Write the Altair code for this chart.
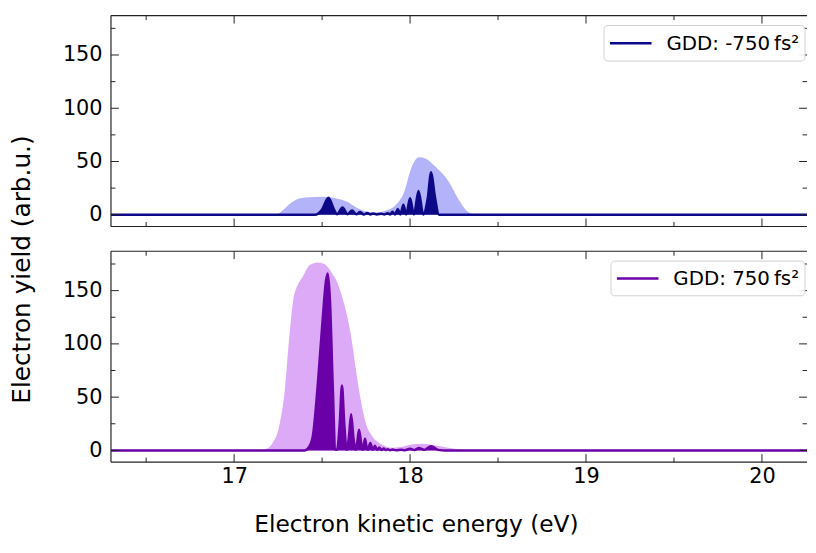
import altair as alt
import pandas as pd

# ---------------- data ----------------
# GDD -750 fs^2 : broad envelope (light) and fringe spectrum (dark)
E_top_env = [16.30, 17.20, 17.245, 17.28, 17.32, 17.34, 17.376, 17.43, 17.489, 17.564,
             17.60, 17.64, 17.695, 17.75, 17.81, 17.86, 17.92, 17.967, 18.005, 18.05,
             18.09, 18.145, 18.22, 18.277, 18.33, 18.37, 18.42, 20.30]
Y_top_env = [0, 0, 0.5, 4.6, 10.8, 13, 15.5, 16.5, 17, 16,
             14.5, 12.4, 6.8, 3.1, 2.2, 3.7, 9.3, 21.7, 43, 54,
             52.6, 45, 31, 14, 2.5, 0.3, 0, 0]

E_top_dark = [16.30, 17.46, 17.50, 17.536, 17.57, 17.585, 17.616, 17.645, 17.67, 17.695,
              17.716, 17.737, 17.757, 17.775, 17.79, 17.81, 17.836, 17.855, 17.873, 17.887,
              17.90, 17.915, 17.93, 17.945, 17.962, 17.978, 18.0, 18.022, 18.048, 18.075,
              18.10, 18.12, 18.14, 18.165, 20.30]
Y_top_dark = [0, 0, 5, 16, 4, 0.5, 6.8, 0.5, 4, 0.4,
              2.5, 0.3, 1.6, 0.3, 1.2, 0.3, 1.0, 0.3, 1.5, 0.3,
              2.8, 0.3, 5.5, 0.3, 9.5, 0.3, 15.5, 0.3, 22.3, 0.3,
              15, 40, 18, 0, 0]

# GDD +750 fs^2
E_bot_env = [16.30, 17.13, 17.175, 17.213, 17.26, 17.288, 17.307, 17.335, 17.363, 17.39,
             17.43, 17.476, 17.513, 17.55, 17.588, 17.626, 17.663, 17.69, 17.72, 17.748,
             17.785, 17.84, 17.898, 17.954, 18.01, 18.067, 18.142, 18.217, 18.29, 18.35, 20.30]
Y_bot_env = [0, 0, 1, 5.6, 25.7, 56.7, 93.8, 140, 155.7, 163,
             174, 176.5, 175, 168, 157, 137, 109, 78, 47, 25.7,
             13.3, 5.6, 2.5, 3.4, 5.6, 6.2, 4.6, 2.5, 0.9, 0, 0]

E_bot_dark = [16.30, 17.40, 17.425, 17.447, 17.476, 17.504, 17.522, 17.532, 17.545, 17.56,
              17.575, 17.585, 17.60, 17.613, 17.626, 17.64, 17.652, 17.665, 17.678, 17.69,
              17.70, 17.71, 17.722, 17.73, 17.737, 17.744, 17.752, 17.76, 17.774, 17.788,
              17.80, 17.813, 17.825, 17.838, 17.85, 17.862, 17.874, 17.887, 17.90, 17.92,
              17.95, 17.97, 18.0, 18.025, 18.05, 18.08, 18.12, 18.16, 18.20, 20.30]
Y_bot_dark = [0, 0, 3, 13, 63, 125, 159, 166, 140, 63,
              1, 0.5, 25, 61, 25, 0.5, 12, 34, 12, 0.5,
              8, 19.5, 7, 0.5, 5, 11, 4, 0.5, 7, 0.5,
              4.3, 0.3, 2.8, 0.3, 1.8, 0.3, 1.2, 0.2, 0.8, 0.2,
              0.6, 0.2, 1.5, 0.3, 2.2, 0.5, 4, 0.5, 0, 0]

labels = ["GDD: -750\u2009fs\u00b2", "GDD: 750\u2009fs\u00b2"]
dark_colors = ["#0d0887", "#6a00a8"]
light_colors = ["#b3b3fa", "#dcaaf6"]

major_x = [17, 18, 19, 20]
minor_x = [16.5, 17.5, 18.5, 19.5]
major_y = [0, 50, 100, 150]
minor_y = [25, 75, 125, 175]

W = 703
H = 213
X_DOMAIN = [16.3, 16.3 + W / 177.7]
Y_DOMAIN = [-11, 187]
MAJ = 8
MIN = 4.5
FONT = "DejaVu Sans"
TICK_COLOR = "#222222"
SPINE = "#222222"

# legend box geometry per panel (pixels inside the plot area)
LEGEND_BOX = [dict(x=498, x2=701, y=10, y2=46),
              dict(x=505, x2=701, y=10, y2=45)]


def frame_layers(xs, ys):
    layers = []
    for vals, L in ((major_x, MAJ), (minor_x, MIN)):
        d = pd.DataFrame({"v": vals})
        layers.append(alt.Chart(d).mark_rule(color=TICK_COLOR, strokeWidth=1).encode(
            x=alt.X("v:Q", scale=xs), y=alt.value(H), y2=alt.value(H - L)))
        layers.append(alt.Chart(d).mark_rule(color=TICK_COLOR, strokeWidth=1).encode(
            x=alt.X("v:Q", scale=xs), y=alt.value(0), y2=alt.value(L)))
    for vals, L in ((major_y, MAJ), (minor_y, MIN)):
        d = pd.DataFrame({"v": vals})
        layers.append(alt.Chart(d).mark_rule(color=TICK_COLOR, strokeWidth=1).encode(
            y=alt.Y("v:Q", scale=ys), x=alt.value(0), x2=alt.value(L)))
        layers.append(alt.Chart(d).mark_rule(color=TICK_COLOR, strokeWidth=1).encode(
            y=alt.Y("v:Q", scale=ys), x=alt.value(W), x2=alt.value(W - L)))
    # spines: left, top, bottom (the right spine lies outside the cropped picture)
    layers.append(alt.Chart().mark_rule(color=SPINE, strokeWidth=1.2).encode(
        x=alt.value(0), y=alt.value(0), y2=alt.value(H)))
    layers.append(alt.Chart().mark_rule(color=SPINE, strokeWidth=1.2).encode(
        x=alt.value(0), x2=alt.value(W), y=alt.value(0)))
    layers.append(alt.Chart().mark_rule(color=SPINE, strokeWidth=1.2).encode(
        x=alt.value(0), x2=alt.value(W), y=alt.value(H)))
    return layers


def legend_layers(i):
    b = LEGEND_BOX[i]
    cy = (b["y"] + b["y2"]) / 2
    box = alt.Chart().mark_rect(fill="white", stroke="#cccccc", strokeWidth=1,
                                cornerRadius=4, opacity=0.9).encode(
        x=alt.value(b["x"]), x2=alt.value(b["x2"]), y=alt.value(b["y"]), y2=alt.value(b["y2"]))
    sym = alt.Chart().mark_rule(color=dark_colors[i], strokeWidth=2.5).encode(
        x=alt.value(b["x"] + 6), x2=alt.value(b["x"] + 48), y=alt.value(cy))
    txt = alt.Chart().mark_text(align="left", baseline="middle", font=FONT, fontSize=20,
                                color="#000").encode(
        x=alt.value(b["x"] + 63), y=alt.value(cy + 1), text=alt.value(labels[i]))
    return [box, sym, txt]


def panel(i, E_env, Y_env, E_dk, Y_dk, bottom):
    xs = alt.Scale(domain=X_DOMAIN, nice=False, zero=False)
    ys = alt.Scale(domain=Y_DOMAIN, nice=False, zero=False)
    if bottom:
        xaxis = alt.Axis(values=major_x, format="d", ticks=False, domain=False, grid=False,
                         labelPadding=4, title="Electron kinetic energy (eV)", titleFontSize=23.5,
                         titleX=308, titleY=70, titleAlign="center", titleBaseline="alphabetic")
        yaxis = alt.Axis(values=major_y, ticks=False, domain=False, grid=False,
                         labelPadding=9, title="")
    else:
        xaxis = alt.Axis(values=major_x, labels=False, ticks=False, domain=False, grid=False, title="")
        yaxis = alt.Axis(values=major_y, ticks=False, domain=False, grid=False,
                         labelPadding=9, title="Electron yield (arb.u.)", titleFontSize=25,
                         titleX=-90, titleY=256, titleAngle=270, titleAlign="center",
                         titleBaseline="middle")

    env = pd.DataFrame({"E": E_env, "Y": Y_env})
    dk = pd.DataFrame({"E": E_dk, "Y": Y_dk})

    light = alt.Chart(env).mark_area(color=light_colors[i], interpolate="monotone", clip=True).encode(
        x=alt.X("E:Q", scale=xs, axis=xaxis),
        y=alt.Y("Y:Q", scale=ys, axis=yaxis),
        y2=alt.datum(0))
    dark = alt.Chart(dk).mark_area(color=dark_colors[i], interpolate="monotone", clip=True).encode(
        x=alt.X("E:Q", scale=xs), y=alt.Y("Y:Q", scale=ys), y2=alt.datum(0))
    line = alt.Chart(dk).mark_line(color=dark_colors[i], interpolate="monotone",
                                   strokeWidth=2.5, clip=True).encode(
        x=alt.X("E:Q", scale=xs), y=alt.Y("Y:Q", scale=ys))
    layers = [light, dark, line] + frame_layers(xs, ys) + legend_layers(i)
    return alt.layer(*layers).properties(width=W, height=H)


top = panel(0, E_top_env, Y_top_env, E_top_dark, Y_top_dark, False)
bot = panel(1, E_bot_env, Y_bot_env, E_bot_dark, Y_bot_dark, True)

chart = alt.vconcat(top, bot, spacing=25, bounds="flush").properties(
    padding={"left": 2, "top": 4, "right": 0, "bottom": 0}
).configure_view(
    stroke=None
).configure_axis(
    labelFont=FONT, labelFontSize=21, labelColor="#000",
    titleFont=FONT, titleFontSize=24, titleFontWeight="normal", titleColor="#000"
)

chart.save("out.html", embed_options={"renderer": "svg", "actions": False})
